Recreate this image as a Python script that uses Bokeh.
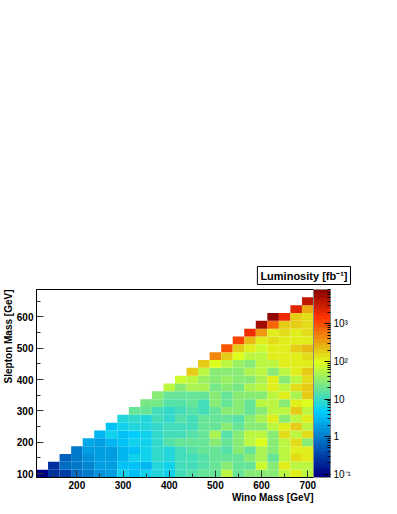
import numpy as np
from bokeh.plotting import figure
from bokeh.models import (ColumnDataSource, LogColorMapper, ColorBar, FixedTicker,
                          Range1d, Title)
from bokeh.embed import file_html
from bokeh.resources import INLINE

# ---------------- data ----------------
wino_mass = [125, 150, 175, 200, 225, 250, 275, 300, 325, 350, 375, 400,
             425, 450, 475, 500, 525, 550, 575, 600, 625, 650, 675, 700]
slepton_mass = [100, 125, 150, 175, 200, 225, 250, 275, 300, 325, 350, 375,
                400, 425, 450, 475, 500, 525, 550, 575, 600, 625, 650]

# luminosity [fb^-1] for each wino-mass column, from the lowest slepton mass upward
lumi_cols = [
    [0.1],
    [0.23, 0.23],
    [0.32, 0.8, 0.58],
    [0.8, 0.95, 0.9, 0.85],
    [0.95, 1.2, 1.4, 1.7, 2.5],
    [1.4, 1.7, 1.7, 2.0, 1.7, 2.8],
    [1.7, 2.0, 2.0, 2.0, 3.0, 5.4, 3.7],
    [5.4, 3.7, 3.0, 3.0, 3.7, 3.7, 6.3, 7.7],
    [3.7, 4.1, 5.4, 3.7, 5.4, 4.5, 7.7, 9.0, 19],
    [6.3, 3.0, 6.3, 6.3, 5.4, 6.3, 7.7, 7.7, 19, 22],
    [7.7, 7.7, 9.0, 9.0, 10, 10, 9.0, 12, 10.5, 25, 30],
    [5.4, 6.3, 7.7, 7.7, 13, 10.5, 12, 10, 9.0, 13, 19, 60],
    [10.5, 10.5, 10.5, 10.5, 19, 10.5, 10.5, 13, 12, 13, 17, 30, 70],
    [13, 10.5, 10.5, 13, 19, 13, 10.5, 10.5, 13, 19, 19, 45, 55, 180],
    [19, 13, 13, 19, 19, 19, 19, 19, 10.5, 12, 19, 50, 40, 55, 200],
    [19, 19, 19, 19, 30, 50, 19, 19, 19, 30, 30, 25, 30, 30, 100, 420],
    [60, 30, 19, 13, 19, 13, 30, 19, 30, 19, 19, 30, 35, 30, 60, 200, 900],
    [19, 19, 19, 30, 30, 30, 19, 13, 30, 30, 30, 25, 30, 30, 35, 100, 200, 1200],
    [30, 19, 30, 19, 60, 60, 30, 30, 19, 19, 30, 50, 30, 50, 30, 60, 110, 220, 1700],
    [30, 80, 50, 50, 100, 60, 30, 50, 30, 60, 30, 60, 50, 60, 60, 60, 70, 110, 350, 5200],
    [30, 30, 19, 30, 30, 30, 60, 110, 60, 60, 60, 110, 110, 30, 60, 110, 120, 160, 110,
     660, 7500],
    [60, 120, 60, 60, 60, 130, 110, 30, 60, 30, 110, 60, 30, 60, 110, 110, 120, 110, 160,
     170, 1700],
    [120, 60, 150, 120, 160, 60, 200, 60, 170, 110, 50, 160, 60, 110, 110, 120, 200, 110,
     110, 180, 180, 2300],
    [60, 60, 110, 110, 30, 160, 60, 110, 60, 100, 170, 170, 150, 200, 120, 160, 220, 110,
     140, 140, 160, 300, 3600],
]

x_ticks = [200, 300, 400, 500, 600, 700]
y_ticks = [100, 200, 300, 400, 500, 600]
z_ticks = [0.1, 1, 10, 100, 1000]
z_tick_labels = ["10\u207b\u00b9", "1", "10", "10\u00b2", "10\u00b3"]

# ---------------- build cells ----------------
xs, ys, zs = [], [], []
for k, col in enumerate(lumi_cols):
    for r, z in enumerate(col):
        xs.append(wino_mass[k])
        ys.append(slepton_mass[r])
        zs.append(z)
src = ColumnDataSource(dict(x=xs, y=ys, z=zs))

# ROOT-like gradient palette (50 colours)
stops = [0.00, 0.34, 0.61, 0.84, 1.00]
red = [0.00, 0.00, 0.87, 1.00, 0.51]
green = [0.00, 0.81, 1.00, 0.20, 0.00]
blue = [0.51, 1.00, 0.12, 0.00, 0.00]
ncol = 50
palette = []
for g in range(1, len(stops)):
    n = int(ncol * stops[g]) - int(ncol * stops[g - 1])
    for c in range(n):
        f = c / n
        rr = red[g - 1] + f * (red[g] - red[g - 1])
        gg = green[g - 1] + f * (green[g] - green[g - 1])
        bb = blue[g - 1] + f * (blue[g] - blue[g - 1])
        palette.append("#%02x%02x%02x" % (int(rr * 255), int(gg * 255), int(bb * 255)))

mapper = LogColorMapper(palette=palette, low=0.082, high=8200)

FONT = "Liberation Sans"

p = figure(frame_width=277, frame_height=188,
           x_range=Range1d(112.5, 712.5), y_range=Range1d(87.5, 687.5),
           output_backend="svg", toolbar_location=None,
           min_border_left=36, min_border_right=50, min_border_top=289,
           min_border_bottom=30)
p.grid.visible = False
p.outline_line_color = "black"
p.outline_line_width = 1

p.rect(x="x", y="y", width=25, height=25, source=src,
       fill_color={"field": "z", "transform": mapper}, line_color=None)

for ax, ticks, minors in ((p.xaxis[0], x_ticks, [150, 250, 350, 450, 550, 650]),
                          (p.yaxis[0], y_ticks, [150, 250, 350, 450, 550, 650])):
    ax.ticker = FixedTicker(ticks=ticks, minor_ticks=minors)
    ax.major_tick_in = 7
    ax.major_tick_out = 0
    ax.minor_tick_in = 4
    ax.minor_tick_out = 0
    ax.major_label_standoff = 3
    ax.major_label_text_font = FONT
    ax.major_label_text_font_style = "bold"
    ax.major_label_text_font_size = "10px"
    ax.major_label_text_color = "black"
    ax.axis_line_color = "black"
    ax.major_tick_line_color = "#333333"
    ax.minor_tick_line_color = "#333333"

cb = ColorBar(color_mapper=mapper, width=17, padding=0, margin=0,
              ticker=FixedTicker(ticks=z_ticks,
                                 minor_ticks=[0.2, 0.3, 0.4, 0.5, 0.6, 0.7, 0.8, 0.9,
                                              2, 3, 4, 5, 6, 7, 8, 9,
                                              20, 30, 40, 50, 60, 70, 80, 90,
                                              200, 300, 400, 500, 600, 700, 800, 900,
                                              2000, 3000, 4000, 5000, 6000, 7000, 8000]),
              major_label_overrides={t: s for t, s in zip(z_ticks, z_tick_labels)},
              major_tick_in=6, major_tick_out=0, minor_tick_in=3, minor_tick_out=0,
              major_tick_line_color="black", minor_tick_line_color="black",
              label_standoff=3,
              major_label_text_font=FONT, major_label_text_font_size="10px",
              major_label_text_color="black",
              bar_line_color="#888888", background_fill_alpha=0)
p.add_layout(cb, "right")

# x axis title, right aligned below the axis
p.add_layout(Title(text="Wino Mass [GeV]", align="right", text_font=FONT,
                   text_color="black", text_font_style="bold", text_font_size="10px",
                   standoff=-3), "below")

# y axis title, top aligned
p.add_layout(Title(text="Slepton Mass [GeV]", align="right", text_font=FONT,
                   text_color="black", text_font_style="bold", text_font_size="10px",
                   standoff=0), "left")

# palette title box
p.add_layout(Title(text="Luminosity [fb\u207b\u00b9]", align="right", offset=-37,
                   text_font=FONT, text_color="black", text_font_style="bold",
                   text_font_size="11px", standoff=10, padding=3,
                   background_fill_color="white", border_line_color="black",
                   border_line_width=1), "above")

open("out.html", "w").write(file_html(p, INLINE))
